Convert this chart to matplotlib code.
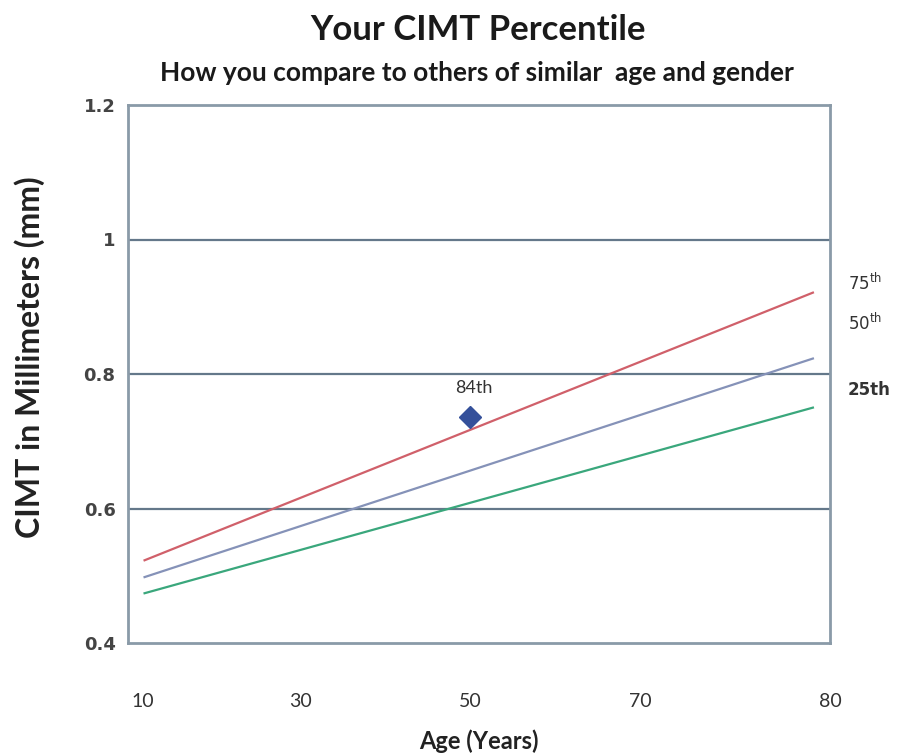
import numpy as np
import matplotlib
matplotlib.use("Agg")
import matplotlib.pyplot as plt

# data
ages = [10.2, 79.1]
p75 = [0.523, 0.921]
p50 = [0.498, 0.823]
p25 = [0.474, 0.750]
you_age = 50
you_cimt = 0.736
you_label = "84th"

tick_ages = [10, 30, 50, 70, 80]
tick_labels = ["10", "30", "50", "70", "80"]
y_ticks = [0.4, 0.6, 0.8, 1.0, 1.2]
y_labels = ["0.4", "0.6", "0.8", "1", "1.2"]

# the age axis in the original is not linear: map ages to the label spots
map_ages = [8.1, 10, 30, 50, 70, 80]
map_pos = [128, 143, 300, 470, 640, 830]


def fwd(a):
    return np.interp(a, map_ages, map_pos)


def inv(p):
    return np.interp(p, map_pos, map_ages)


cal = ["Lato", "DejaVu Sans"]

fig = plt.figure(figsize=(9.05, 7.56), dpi=100)
ax = fig.add_axes([128 / 905, 1 - 643 / 756, (830 - 128) / 905, (643 - 105) / 756])
ax.set_xscale("function", functions=(fwd, inv))
ax.set_xlim(8.1, 80)
ax.set_ylim(0.4, 1.2)

grid_c = "#64788a"
for y in y_ticks[1:-1]:
    ax.axhline(y, color=grid_c, lw=1.6, zorder=1)

ax.plot(ages, p75, color="#d0606a", lw=1.6, zorder=3)
ax.plot(ages, p50, color="#8592b8", lw=1.6, zorder=3)
ax.plot(ages, p25, color="#3aa77c", lw=1.6, zorder=3)
ax.plot([you_age], [you_cimt], marker="D", ms=11, color="#34509a", ls="none", zorder=4)
ax.annotate(you_label, (you_age, you_cimt), xytext=(3, 21), textcoords="offset points",
            ha="center", va="center", fontsize=13, color="#333333", family=cal)

for s in ax.spines.values():
    s.set_color("#8a9aa8")
    s.set_linewidth(2)

ax.set_xticks(tick_ages)
ax.set_xticklabels(tick_labels, family=cal, fontsize=14, color="#333333")
ax.set_yticks(y_ticks)
ax.set_yticklabels(y_labels, fontsize=13, fontweight="bold", color="#444444")
ax.tick_params(axis="x", length=0, pad=36)
ax.tick_params(axis="y", length=0, pad=9)

ax.set_xlabel("Age (Years)", family=cal, fontsize=17, fontweight="bold", color="#222222", labelpad=14)
ax.set_ylabel("CIMT in Millimeters (mm)", family=cal, fontsize=23, fontweight="bold", color="#222222")
ax.yaxis.set_label_coords(-0.118, 0.532)

# percentile labels on the right
fig.text(848 / 905, 1 - 283 / 756, "75$^{\\rm th}$", fontsize=12, color="#333333", va="center")
fig.text(848 / 905, 1 - 323 / 756, "50$^{\\rm th}$", fontsize=12, color="#333333", va="center")
fig.text(848 / 905, 1 - 390 / 756, "25th", fontsize=12, color="#333333", va="center", fontweight="bold")

fig.text(478 / 905, 1 - 30 / 756, "Your CIMT Percentile", family=cal, fontsize=25,
         fontweight="bold", ha="center", va="center", color="#1a1a1a")
fig.text(477 / 905, 1 - 73 / 756, "How you compare to others of similar  age and gender", family=cal,
         fontsize=19, fontweight="bold", ha="center", va="center", color="#1a1a1a")

fig.savefig("out.png", dpi=100)
